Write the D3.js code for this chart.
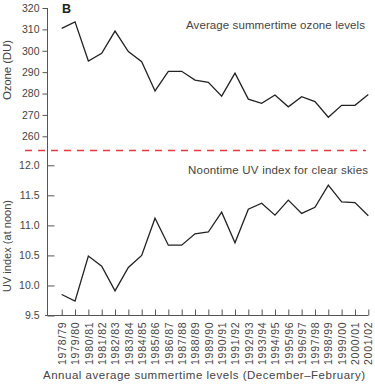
<!DOCTYPE html>
<head>
  <meta charset="utf-8">
  <title>ozone_uv.html</title>
</head>
<style>

body { margin: 0; background: #fff; }

text {
  font-family: "Liberation Sans", Arial, sans-serif;
  fill: #444;
}

.axis text { font-size: 10.5px; fill: #444; }
.axis line { stroke: #555; }
.xaxis text { letter-spacing: 0.8px; }

.series { fill: none; stroke: #222; stroke-width: 1.3; }

</style>

<svg width="375" height="384"></svg>
<script src="https://d3js.org/d3.v7.min.js"></script>
<script>
// summer seasons, Dec-Feb
var seasons = ["1978/79", "1979/80", "1980/81", "1981/82", "1982/83", "1983/84",
  "1984/85", "1985/86", "1986/87", "1987/88", "1988/89", "1989/90", "1990/91",
  "1991/92", "1992/93", "1993/94", "1994/95", "1995/96", "1996/97", "1997/98",
  "1998/99", "1999/00", "2000/01", "2001/02"];

var ozone = [310.5, 313.5, 295.2, 298.8, 309.2, 299.6, 294.9, 281.2, 290.4, 290.4,
  286.3, 285.2, 278.8, 289.5, 277.4, 275.4, 279.3, 273.8, 278.5, 276.2,
  268.9, 274.5, 274.5, 279.6];

var uv = [9.85, 9.74, 10.49, 10.32, 9.91, 10.30, 10.50, 11.12, 10.67, 10.67,
  10.86, 10.89, 11.22, 10.71, 11.27, 11.37, 11.17, 11.42, 11.20, 11.30,
  11.67, 11.39, 11.38, 11.16];

var ozoneTicks = [260, 270, 280, 290, 300, 310, 320];
var uvTicks = [9.5, 10.0, 10.5, 11.0, 11.5, 12.0];

var svg = d3.select("svg"),
    axisX = 47.5,
    bottom = 315.5,
    right = 368.3;

var x = d3.scalePoint()
    .domain(seasons)
    .range([61.7, right]);

var yOzone = d3.scaleLinear()
    .domain([260, 320])
    .range([136.3, 8]);

var yUV = d3.scaleLinear()
    .domain([9.5, 12])
    .range([bottom, 165.3]);

// ozone axis, ticks outward
var gOz = svg.append("g")
    .attr("class", "axis")
    .attr("transform", "translate(" + axisX + ",0)")
    .call(d3.axisLeft(yOzone).tickValues(ozoneTicks).tickSize(5).tickPadding(3));
gOz.select(".domain").remove();

// uv axis, ticks inward
var gUV = svg.append("g")
    .attr("class", "axis")
    .attr("transform", "translate(" + axisX + ",0)")
    .call(d3.axisLeft(yUV).tickValues(uvTicks).tickSize(-7).tickPadding(8)
      .tickFormat(d3.format(".1f")));
gUV.select(".domain").remove();

// one long vertical line for both panels
svg.append("line")
    .attr("x1", axisX).attr("x2", axisX)
    .attr("y1", yOzone(320)).attr("y2", bottom)
    .attr("stroke", "#555");

var gX = svg.append("g")
    .attr("class", "axis xaxis")
    .attr("transform", "translate(0," + bottom + ")")
    .call(d3.axisBottom(x).tickSize(-6).tickPadding(0));
gX.select(".domain").remove();
gX.selectAll("text")
    .attr("text-anchor", "end")
    .attr("transform", "rotate(-90)")
    .attr("x", -6)
    .attr("y", 0)
    .attr("dy", "0.35em");

svg.append("line")
    .attr("x1", 45).attr("x2", right)
    .attr("y1", bottom).attr("y2", bottom)
    .attr("stroke", "#555");

// red divider
svg.append("line")
    .attr("x1", 25).attr("x2", 366)
    .attr("y1", 150.5).attr("y2", 150.5)
    .attr("stroke", "#e8383d")
    .attr("stroke-width", 1.6)
    .attr("stroke-dasharray", "7,6");

var lineOz = d3.line()
    .x(function(d, i) { return x(seasons[i]); })
    .y(function(d) { return yOzone(d); });

var lineUV = d3.line()
    .x(function(d, i) { return x(seasons[i]); })
    .y(function(d) { return yUV(d); });

svg.append("path").datum(ozone).attr("class", "series").attr("d", lineOz);
svg.append("path").datum(uv).attr("class", "series").attr("d", lineUV);

// labels (textLength pins the spans)
svg.append("text")
    .attr("x", 62).attr("y", 13)
    .style("font-weight", "bold").style("font-size", "12.5px").style("fill", "#222")
    .text("B");

svg.append("text")
    .attr("x", 186).attr("y", 29)
    .attr("textLength", 179).attr("lengthAdjust", "spacing")
    .style("font-size", "11.5px")
    .text("Average summertime ozone levels");

svg.append("text")
    .attr("x", 188).attr("y", 174)
    .attr("textLength", 180).attr("lengthAdjust", "spacing")
    .style("font-size", "11.5px")
    .text("Noontime UV index for clear skies");

svg.append("text")
    .attr("transform", "translate(11,100) rotate(-90)")
    .attr("textLength", 60).attr("lengthAdjust", "spacing")
    .style("font-size", "11.5px")
    .text("Ozone (DU)");

svg.append("text")
    .attr("transform", "translate(11,292) rotate(-90)")
    .attr("textLength", 92).attr("lengthAdjust", "spacing")
    .style("font-size", "11px")
    .text("UV index (at noon)");

svg.append("text")
    .attr("x", 43).attr("y", 379)
    .attr("textLength", 322).attr("lengthAdjust", "spacing")
    .style("font-size", "11.5px")
    .text("Annual average summertime levels (December\u2013February)");

</script>
